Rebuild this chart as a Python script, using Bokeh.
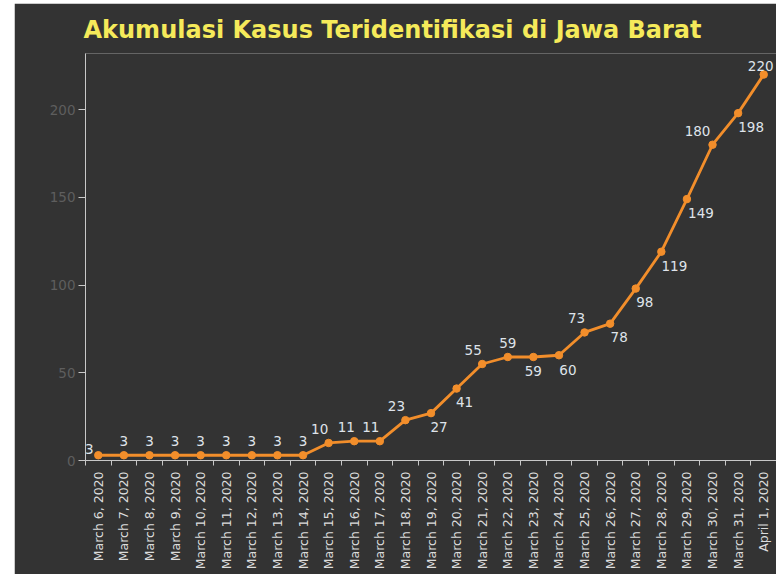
from math import pi
from bokeh.plotting import figure
from bokeh.models import ColumnDataSource, FixedTicker, Range1d, Spacer
from bokeh.layouts import row, column
from bokeh.core.properties import value
from bokeh.embed import file_html
from bokeh.resources import INLINE

dates = ["March 6, 2020", "March 7, 2020", "March 8, 2020", "March 9, 2020",
         "March 10, 2020", "March 11, 2020", "March 12, 2020", "March 13, 2020",
         "March 14, 2020", "March 15, 2020", "March 16, 2020", "March 17, 2020",
         "March 18, 2020", "March 19, 2020", "March 20, 2020", "March 21, 2020",
         "March 22, 2020", "March 23, 2020", "March 24, 2020", "March 25, 2020",
         "March 26, 2020", "March 27, 2020", "March 28, 2020", "March 29, 2020",
         "March 30, 2020", "March 31, 2020", "April 1, 2020"]
cases = [3, 3, 3, 3, 3, 3, 3, 3, 3, 10, 11, 11, 23, 27, 41, 55, 59, 59, 60,
         73, 78, 98, 119, 149, 180, 198, 220]
y_ticks = [0, 50, 100, 150, 200]

# label offsets (screen px, y down-positive) -- styling only
label_dx = [-9, 0, 0, 0, 0, 0, 0, 0, 0, -9, -8, -9, -9, 8, 8, -9, 0, 0, 9,
            -8, 9, 9, 13, 14, -15, 13, -3]
label_dy = [-6, -14, -14, -14, -14, -14, -14, -14, -14, -14, -14, -14, -14, 14, 13,
            -14, -14, 14, 15, -14, 13, 13, 14, 14, -14, 14, -9]

BG = "#333333"
ORANGE = "#f28e2b"

xs = list(range(len(dates)))
src = ColumnDataSource(dict(x=xs, y=cases, lbl=[str(c) for c in cases],
                            dx=label_dx, dy=label_dy))

p = figure(width=762, height=571, output_backend="svg", toolbar_location=None,
           x_range=Range1d(-0.5, len(dates) - 0.5), y_range=Range1d(0, 232),
           min_border_left=71, min_border_right=0, min_border_top=50,
           min_border_bottom=114)
p.background_fill_color = BG
p.border_fill_color = BG
p.outline_line_color = None
p.grid.visible = False

p.title.text = "Akumulasi Kasus Teridentifikasi di Jawa Barat"
p.title.text_color = "#f5ea5a"
p.title.text_font = "DejaVu Sans"
p.title.text_font_style = "bold"
p.title.text_font_size = "24px"
p.title.align = "left"
p.title.offset = -2
p.title.standoff = 20

p.line("x", "y", source=src, line_color=ORANGE, line_width=2.8)
p.scatter("x", "y", source=src, size=7.5, fill_color=ORANGE, line_color=ORANGE)
p.text("x", "y", text="lbl", source=src, x_offset="dx", y_offset="dy",
       text_align="center", text_baseline="middle", text_color="#dfe3ea",
       text_font_size="13.5px", text_font=value("DejaVu Sans"))

AX = "#c8c8c8"
xa = p.xaxis[0]
xa.ticker = FixedTicker(ticks=xs, minor_ticks=[i - 0.5 for i in range(len(dates) + 1)])
xa.major_label_overrides = {i: d for i, d in enumerate(dates)}
xa.major_label_orientation = pi / 2
xa.major_tick_out = 0
xa.major_tick_in = 0
xa.minor_tick_out = 5
xa.minor_tick_in = 0
xa.minor_tick_line_color = AX
xa.axis_line_color = AX
xa.major_label_text_color = "#dcdcdc"
xa.major_label_text_font = "DejaVu Sans"
xa.major_label_text_font_size = "12.5px"
xa.major_label_standoff = 6

ya = p.yaxis[0]
ya.ticker = FixedTicker(ticks=y_ticks)
ya.axis_line_color = AX
ya.major_tick_line_color = AX
ya.major_tick_out = 7
ya.major_tick_in = 0
ya.minor_tick_line_color = None
ya.major_label_text_color = "#5e5e5e"
ya.major_label_text_font = "DejaVu Sans"
ya.major_label_text_font_size = "13.5px"
ya.major_label_standoff = 3

layout = row(Spacer(width=14, height=574), column(Spacer(width=762, height=3), p))
open("out.html", "w").write(file_html(layout, INLINE))
